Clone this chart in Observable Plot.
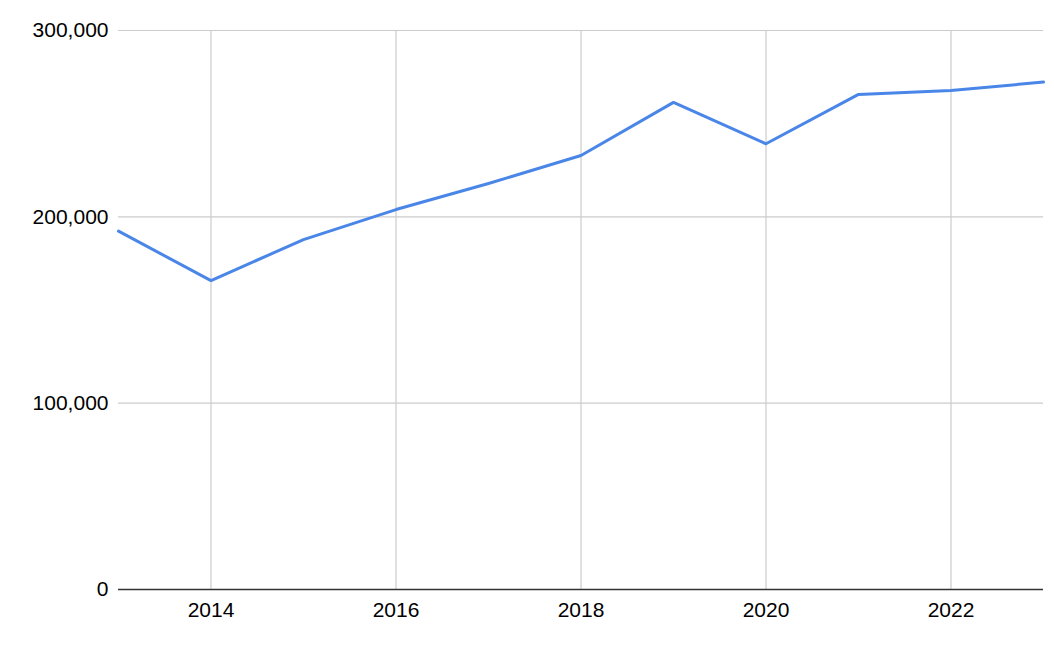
<!DOCTYPE html>
<html>
<head>
<meta charset="utf-8">
<script src="https://cdn.jsdelivr.net/npm/d3@7"></script>
<script src="https://cdn.jsdelivr.net/npm/@observablehq/plot@0.6"></script>
<style>
  html, body { margin: 0; padding: 0; background: #fff; }
  #chart svg { display: block; }
</style>
</head>
<body>
<div id="chart"></div>
<script>
const years = [2013, 2014, 2015, 2016, 2017, 2018, 2019, 2020, 2021, 2022, 2023];
const values = [192300, 165800, 187800, 203900, 217900, 232900, 261400, 239200, 265700, 267800, 272300];
const xTicks = [2014, 2016, 2018, 2020, 2022];
const yTicks = [0, 100000, 200000, 300000];

const data = years.map((year, i) => ({year, value: values[i]}));

const chart = Plot.plot({
  width: 1054,
  height: 652,
  marginLeft: 118,
  marginRight: 11,
  marginTop: 30,
  marginBottom: 63,
  style: {fontFamily: "Arial, 'Liberation Sans', sans-serif", fontSize: "21px", color: "#000", background: "#fff"},
  x: {domain: [2013, 2023]},
  y: {domain: [0, 300000]},
  marks: [
    Plot.gridX(xTicks, {stroke: "#cccccc", strokeOpacity: 1, strokeWidth: 1.2}),
    Plot.gridY(yTicks.filter(d => d > 0), {stroke: "#cccccc", strokeOpacity: 1, strokeWidth: 1.2}),
    Plot.ruleY([0], {stroke: "#333333", strokeWidth: 1.3}),
    Plot.axisX(xTicks, {tickSize: 0, tickPadding: 13, tickFormat: d => String(d), fill: "#000", fontSize: 21, label: null}),
    Plot.axisY(yTicks, {tickSize: 0, tickPadding: 10, tickFormat: d3.format(","), fill: "#000", fontSize: 21, label: null}),
    Plot.line(data, {x: "year", y: "value", stroke: "#4a86e8", strokeWidth: 3, strokeLinejoin: "round"})
  ]
});
document.getElementById("chart").appendChild(chart);
</script>
</body>
</html>
